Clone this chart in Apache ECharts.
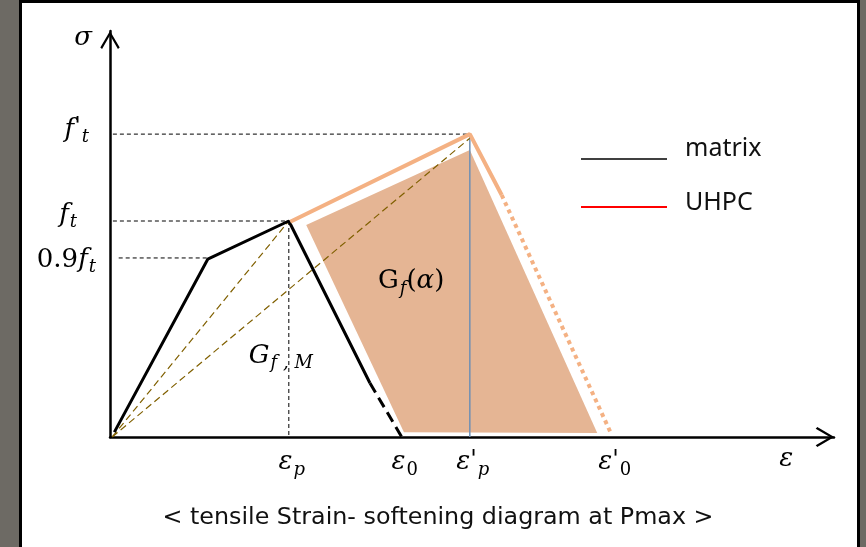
<!DOCTYPE html>
<html>
<head>
<meta charset="utf-8">
<script src="https://cdn.jsdelivr.net/npm/echarts@6/dist/echarts.min.js"></script>
<style>
body { margin: 0; background: #6d6a64; }
#frame { position: absolute; left: 19px; top: 0; width: 835px; height: 560px; background: #fff; border: 3px solid #000; }
#main { position: absolute; left: 0; top: 0; width: 866px; height: 547px; }
</style>
</head>
<body>
<div id="frame"></div>
<div id="main"></div>
<script>
// strain (x) and stress (y) in diagram units, both axes 0..100
var matrixSolid = [[0.6, 1.2], [13.5, 43.8], [24.7, 53.2], [35.9, 13.3]];
var matrixDash = [[35.9, 13.3], [40.3, 0]];
var uhpcSolid = [[24.9, 53.0], [49.7, 74.6], [54.1, 59.6]];
var uhpcDot = [[54.1, 59.6], [69.3, 0.5]];
var gfArea = [[27.1, 52.2], [49.7, 70.7], [67.3, 1.0], [40.6, 1.2]];
var guideFt2 = [[0.4, 74.6], [49.7, 74.6]];
var guideFt = [[0.4, 53.2], [24.7, 53.2]];
var guide09 = [[1.2, 44.1], [13.5, 44.1]];
var guideEp = [[24.7, 53.2], [24.7, 0]];
var peakLine = [[49.7, 74.6], [49.7, 0]];
var secantM = [[0.3, 0], [24.7, 53.2]];
var secantU = [[0.3, 0], [49.7, 73.6]];

// tick labels
var xTickValues = [24.7, 40.3, 49.7, 69.3, 93.0];
var xTickLabels = ['{m|ε}{s|p}', '{m|ε}{n|0}', '{m|ε}{pr|\'}{s|p}', '{m|ε}{pr|\'}{n|0}', '{m|ε}'];
var yTickValues = [74.6, 53.2, 44.1];
var yTickLabels = ['{m|f}{pr|\'}{s|t}', '{m|f}{s|t}', '{u|0.9}{m|f}{s|t}'];
var legendNames = ['matrix', 'UHPC'];
var caption = '< tensile Strain- softening diagram at Pmax >';

var serif = 'DejaVu Serif';
var rich = {
  m: { fontFamily: serif, fontStyle: 'italic', fontSize: 26, fill: '#000' },
  u: { fontFamily: serif, fontSize: 26, fill: '#000' },
  s: { fontFamily: serif, fontStyle: 'italic', fontSize: 18, padding: [15, 0, 0, 1], fill: '#000' },
  n: { fontFamily: serif, fontSize: 18, padding: [15, 0, 0, 1], fill: '#000' },
  pr: { fontFamily: serif, fontStyle: 'italic', fontSize: 24, padding: [0, 0, 4, 0], fill: '#000' }
};

function seg(data, color, width, type, z) {
  return {
    type: 'line', data: data, showSymbol: false, silent: true, z: z || 3,
    lineStyle: { color: color, width: width, type: type || 'solid' }
  };
}

var chart = echarts.init(document.getElementById('main'));
var arrow = 'path://M10,0 L20,17 L18.2,18.6 L10,4.4 L1.8,18.6 L0,17 Z';

chart.setOption({
  animation: false,
  backgroundColor: 'transparent',
  grid: { left: 110, right: 32, top: 31, bottom: 110 },
  xAxis: {
    type: 'value', min: 0, max: 100,
    axisLine: { onZero: false, symbol: ['none', arrow], symbolSize: [20, 19], symbolOffset: [0, -9],
      lineStyle: { color: '#000', width: 2.5 } },
    axisTick: { show: false }, axisLabel: { show: false }, splitLine: { show: false }
  },
  yAxis: {
    type: 'value', min: 0, max: 100,
    axisLine: { onZero: false, symbol: ['none', arrow], symbolSize: [20, 18], symbolOffset: [0, -9],
      lineStyle: { color: '#000', width: 2.5 } },
    axisTick: { show: false }, axisLabel: { show: false }, splitLine: { show: false }
  },
  series: [
    {
      type: 'custom', data: gfArea, silent: true, z: 1,
      renderItem: function (params, api) {
        if (params.dataIndex > 0) return;
        return {
          type: 'polygon',
          shape: { points: gfArea.map(function (p) { return api.coord(p); }) },
          style: { fill: '#e5b594' }
        };
      }
    },
    seg(guideFt2, '#000', 1, [4, 3]),
    seg(guideFt, '#000', 1, [4, 3]),
    seg(guide09, '#000', 1, [4, 3]),
    seg(guideEp, '#000', 1, [4, 3]),
    seg(peakLine, '#6f8fb5', 1.5),
    seg(secantM, '#806000', 1.2, [7, 4]),
    seg(secantU, '#806000', 1.2, [7, 4]),
    seg(matrixSolid, '#000', 3),
    seg(matrixDash, '#000', 3, [11, 6]),
    seg(uhpcSolid, '#f4b183', 4),
    seg(uhpcDot, '#f4b183', 4, [4, 4])
  ]
});

// labels placed through the chart's own scales
var g = [];
function txt(x, y, style) {
  g.push({ type: 'text', x: x, y: y, z: 100, style: style });
}
xTickValues.forEach(function (v, i) {
  var p = chart.convertToPixel({ gridIndex: 0 }, [v, 0]);
  txt(p[0] + 3, p[1] + 9, { text: xTickLabels[i], rich: rich, align: 'center', verticalAlign: 'top' });
});
var yOff = [[-21, -4], [-33, -6], [-14, 2]];
yTickValues.forEach(function (v, i) {
  var p = chart.convertToPixel({ gridIndex: 0 }, [0, v]);
  txt(p[0] + yOff[i][0], p[1] + yOff[i][1], { text: yTickLabels[i], rich: rich, align: 'right', verticalAlign: 'middle' });
});
var yTop = chart.convertToPixel({ gridIndex: 0 }, [0, 100]);
txt(yTop[0] - 27, yTop[1] + 7, { text: '{m|σ}', rich: rich, align: 'center', verticalAlign: 'middle' });
var gm = chart.convertToPixel({ gridIndex: 0 }, [23.6, 20]);
txt(gm[0], gm[1], { text: '{m|G}{s|f , M}', rich: rich, align: 'center', verticalAlign: 'middle' });
var ga = chart.convertToPixel({ gridIndex: 0 }, [41.6, 38.3]);
txt(ga[0], ga[1], { text: '{u|G}{s|f}{u|(}{m|α}{u|)}', rich: rich, align: 'center', verticalAlign: 'middle' });

// legend
var legendColors = ['#404040', '#ff0000'];
var legendTextY = [149, 203];
legendNames.forEach(function (name, i) {
  var y = 159 + i * 48;
  g.push({ type: 'line', z: 100, shape: { x1: 581, y1: y, x2: 667, y2: y },
    style: { stroke: legendColors[i], lineWidth: 2 } });
  txt(685, legendTextY[i], { text: name, fontFamily: 'Noto Sans', fontSize: 25, fill: '#111', align: 'left', verticalAlign: 'middle' });
});
txt(438, 518, { text: caption, fontFamily: 'DejaVu Sans', fontSize: 23.8, fill: '#111', align: 'center', verticalAlign: 'middle' });

chart.setOption({ graphic: g });
</script>
</body>
</html>
